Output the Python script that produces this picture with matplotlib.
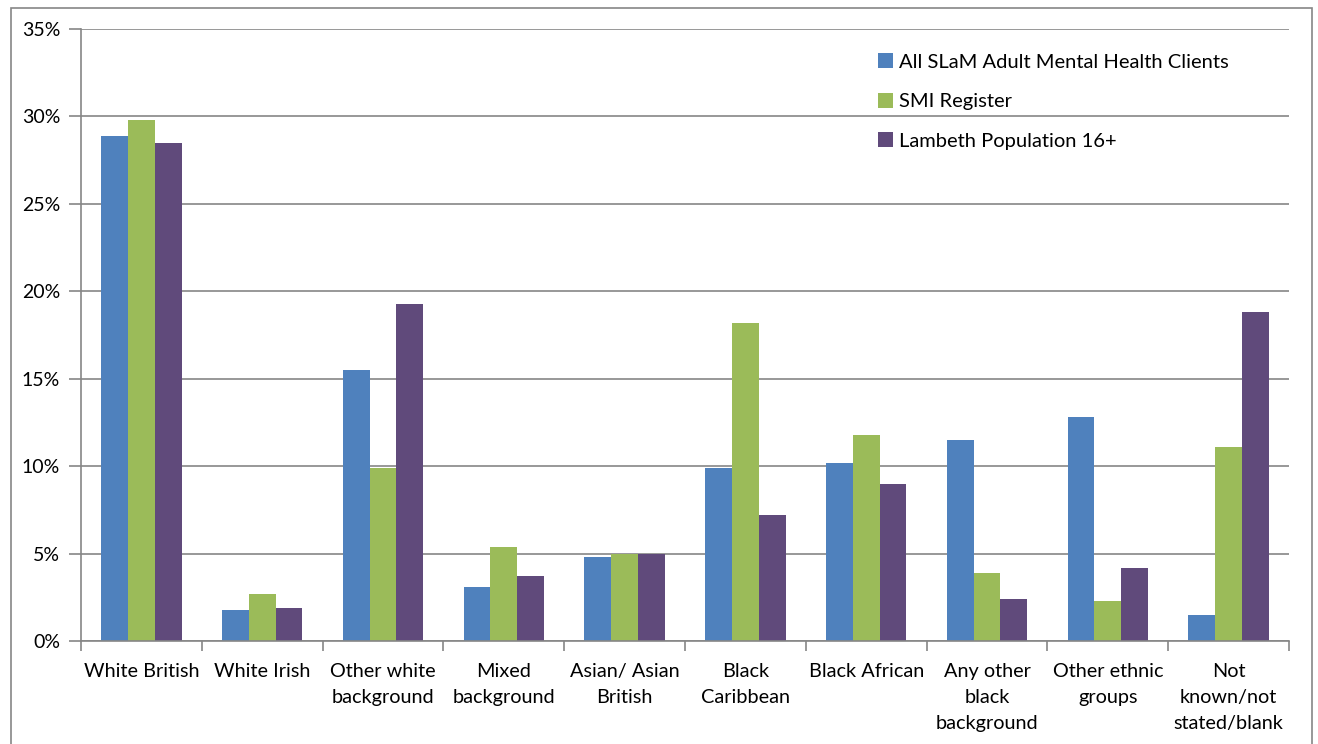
import numpy as np
import matplotlib.pyplot as plt
from matplotlib.patches import Rectangle
from matplotlib.ticker import FixedLocator, PercentFormatter

plt.rcParams['font.family'] = ['Lato', 'DejaVu Sans']

# Data (percent)
categories = ["White British", "White Irish", "Other white\nbackground", "Mixed\nbackground",
              "Asian/ Asian\nBritish", "Black\nCaribbean", "Black African",
              "Any other\nblack\nbackground", "Other ethnic\ngroups", "Not\nknown/not\nstated/blank"]
slam_clients = [28.9, 1.8, 15.5, 3.1, 4.8, 9.9, 10.2, 11.5, 12.8, 1.5]
smi_register = [29.8, 2.7, 9.9, 5.4, 5.0, 18.2, 11.8, 3.9, 2.3, 11.1]
lambeth_pop = [28.5, 1.9, 19.3, 3.7, 5.0, 7.2, 9.0, 2.4, 4.2, 18.8]
series_names = ["All SLaM Adult Mental Health Clients", "SMI Register", "Lambeth Population 16+"]
colors = ["#4F81BD", "#9BBB59", "#604A7B"]

fig = plt.figure(figsize=(13.18, 7.44), dpi=100)
ax = fig.add_axes([81 / 1318, 1 - 641 / 744, 1208 / 1318, 612 / 744])

# outer chart border
fig.patches.append(Rectangle((11 / 1318, -0.05), 1301 / 1318, 1 - 8 / 744 + 0.05,
                             transform=fig.transFigure, fill=False,
                             edgecolor="#868686", linewidth=1.2))

x = np.arange(len(categories))
w = 0.222
for i, (vals, name, c) in enumerate(zip([slam_clients, smi_register, lambeth_pop], series_names, colors)):
    ax.bar(x + (i - 1) * w, vals, width=w, color=c, label=name, zorder=3)

ax.set_xlim(-0.5, len(categories) - 0.5)
ax.set_ylim(0, 35)
ax.set_yticks(np.arange(0, 36, 5))
ax.yaxis.set_major_formatter(PercentFormatter(decimals=0))
ax.grid(axis="y", color="#868686", linewidth=1.2, zorder=0)

ax.set_xticks(x)
ax.set_xticklabels(categories, fontsize=14.3, linespacing=1.62)
ax.tick_params(axis="x", length=0, pad=16)
ax.xaxis.set_minor_locator(FixedLocator(np.arange(-0.5, len(categories), 1)))
ax.tick_params(axis="x", which="minor", length=7, color="#868686", width=1.2)
ax.tick_params(axis="y", length=9, color="#868686", width=1.2, labelsize=14, pad=6)

for s in ["top", "right"]:
    ax.spines[s].set_visible(False)
for s in ["left", "bottom"]:
    ax.spines[s].set_color("#868686")
    ax.spines[s].set_linewidth(1.2)
    ax.spines[s].set_zorder(4)

ax.legend(loc="upper left", bbox_to_anchor=(0.645, 0.99), frameon=False, fontsize=14.5,
          handlelength=0.75, handleheight=0.75, handletextpad=0.3, labelspacing=1.1)

fig.savefig("out.png", dpi=100)
